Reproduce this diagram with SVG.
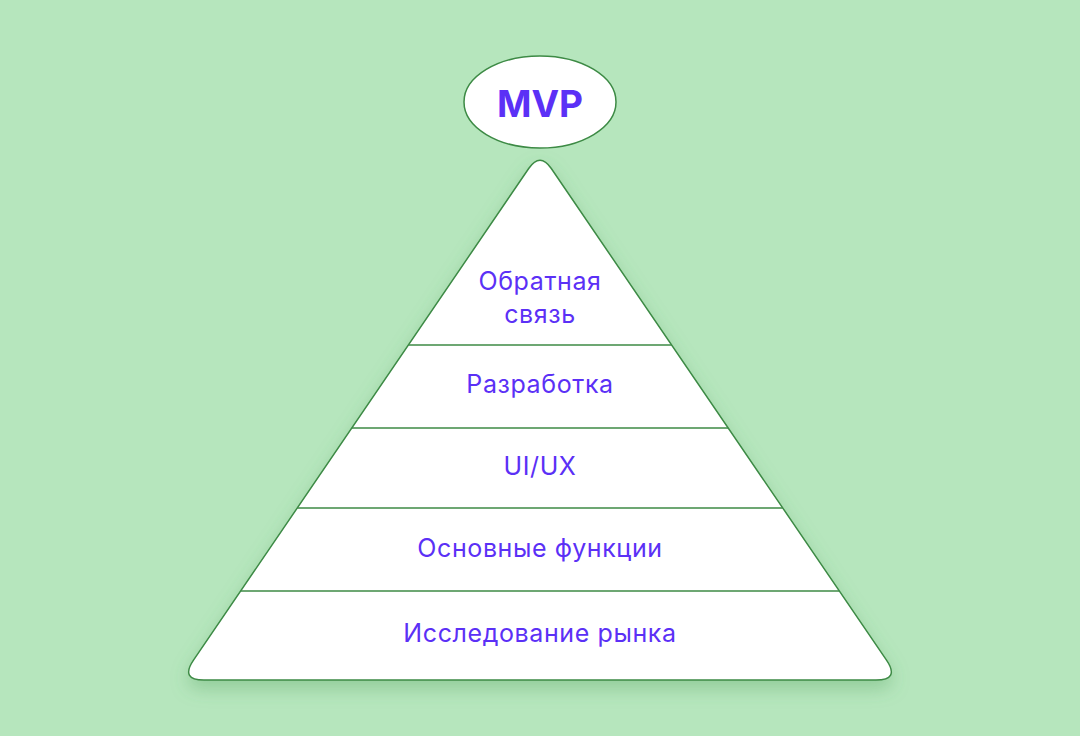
<svg xmlns="http://www.w3.org/2000/svg" width="1080" height="736" viewBox="0 0 1080 736">
  <defs>
    <filter id="sh" x="-10%" y="-10%" width="120%" height="130%">
      <feDropShadow dx="0" dy="8" stdDeviation="9" flood-color="#4e9e5a" flood-opacity="0.35"/>
    </filter>
    <style>
      .lbl { font-family: "Inter", "Noto Sans", "Liberation Sans", sans-serif; font-size: 25px; letter-spacing: 0.6px; fill: #5b30f6; text-anchor: middle; }
      .band { stroke: #3d8a45; stroke-width: 1.5; fill: none; }
      .shape { fill: #ffffff; stroke: #3d8a45; stroke-width: 1.5; }
    </style>
  </defs>
  <rect width="1080" height="736" fill="#b6e6bd"/>
  <g id="pyramid">
    <path class="shape" filter="url(#sh)" d="M528.7,168.5 Q540,152 551.3,168.5 L886.5,660.2 Q900,680 876,680 L204,680 Q180,680 193.5,660.2 Z"/>
  </g>
  <g id="connectors">
    <line class="band" x1="408.4" y1="345" x2="671.6" y2="345"/>
    <line class="band" x1="351.8" y1="428" x2="728.2" y2="428"/>
    <line class="band" x1="297.3" y1="508" x2="782.7" y2="508"/>
    <line class="band" x1="240.7" y1="591" x2="839.3" y2="591"/>
  </g>
  <g id="mvp">
    <ellipse class="shape" cx="540" cy="102" rx="76" ry="46"/>
    <text x="540" y="117" style="font-family: 'Inter', 'Noto Sans', 'Liberation Sans', sans-serif; font-size: 37px; font-weight: 700; fill: #5b30f6; text-anchor: middle;">MVP</text>
  </g>
  <g id="layer-feedback">
    <text class="lbl" x="540" y="290">Обратная</text>
    <text class="lbl" x="540" y="323">связь</text>
  </g>
  <g id="layer-dev">
    <text class="lbl" x="540" y="393">Разработка</text>
  </g>
  <g id="layer-uiux">
    <text class="lbl" x="540" y="475">UI/UX</text>
  </g>
  <g id="layer-features">
    <text class="lbl" x="540" y="557">Основные функции</text>
  </g>
  <g id="layer-research">
    <text class="lbl" x="540" y="642">Исследование рынка</text>
  </g>
</svg>
